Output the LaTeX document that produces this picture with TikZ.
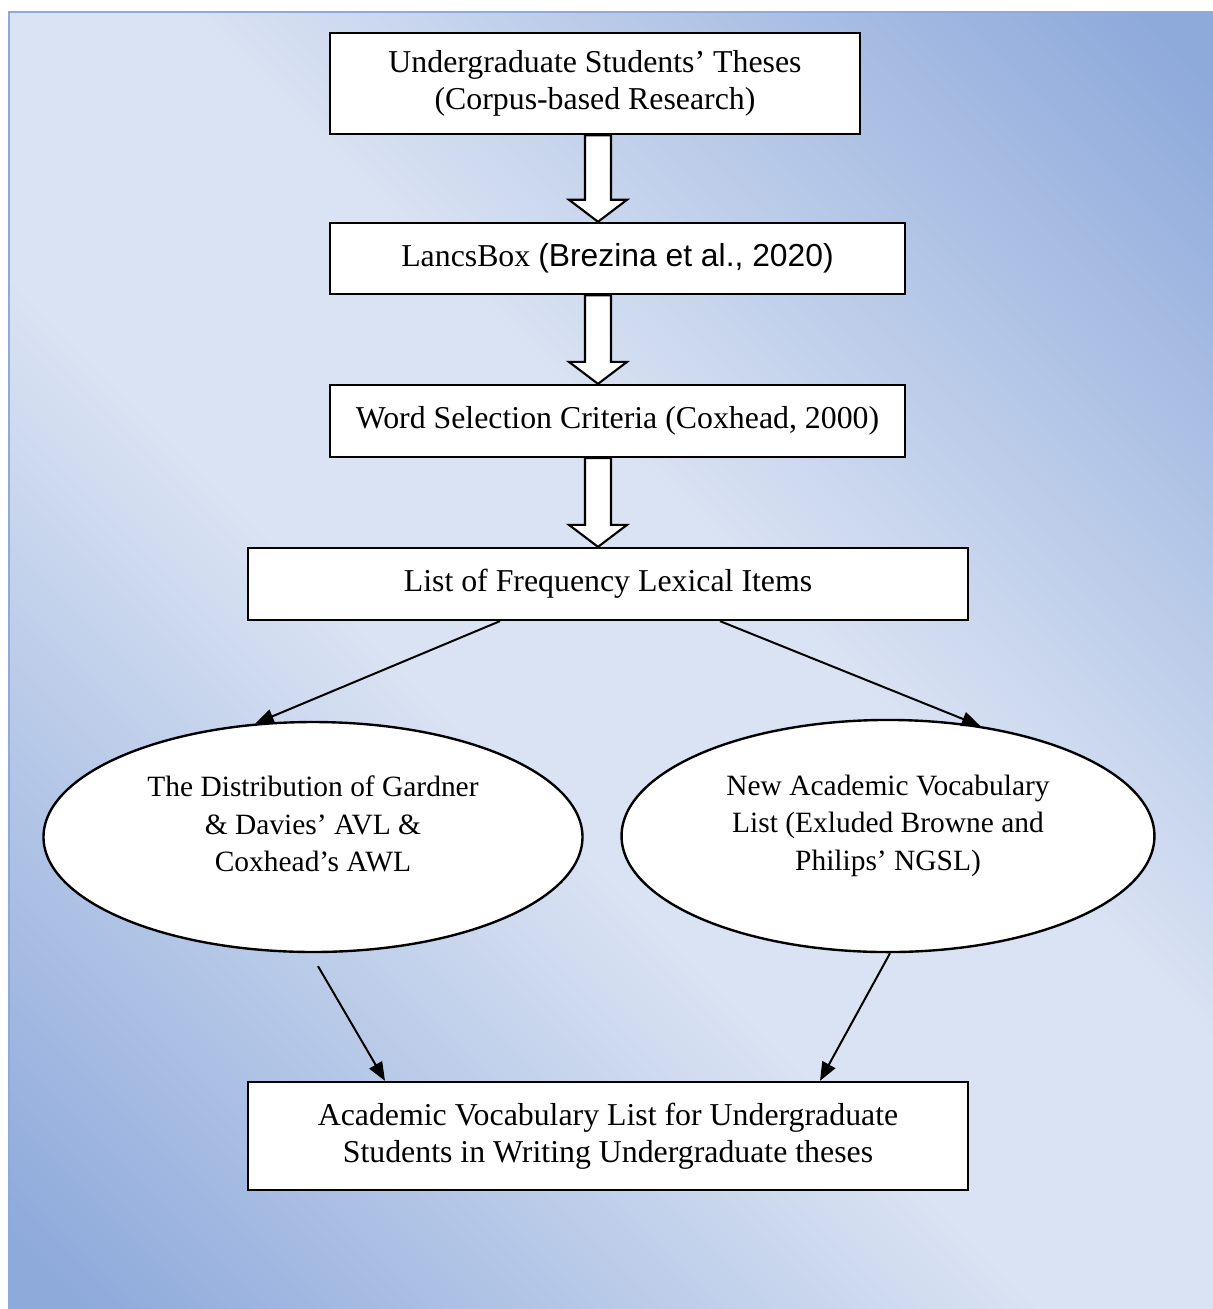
\documentclass[tikz,border=0pt]{standalone}
\usepackage{fontspec}
\setmainfont{Liberation Serif}
\setsansfont{Liberation Sans}
\usetikzlibrary{arrows.meta,calc,shapes.geometric}
\definecolor{bgdark}{HTML}{8EAADB}
\definecolor{bglight}{HTML}{DAE3F3}
\pgfdeclareverticalshading{bgband}{100bp}{color(0bp)=(bgdark); color(17bp)=(bgdark);
  color(44bp)=(bglight); color(56bp)=(bglight); color(83bp)=(bgdark); color(100bp)=(bgdark)}
% hollow block arrow from the bottom of #1 to the top of #2, along (spine)
\newcommand{\blockarrow}[2]{%
  \draw[fill=white,line width=0.8pt,line join=miter]
    ($(#1.south -| spine)+(-13,0)$) -- ($(#1.south -| spine)+(13,0)$)
    -- ($(#2.north -| spine)+(13,-22)$) -- ($(#2.north -| spine)+(29,-22)$)
    -- (#2.north -| spine) -- ($(#2.north -| spine)+(-29,-22)$)
    -- ($(#2.north -| spine)+(-13,-22)$) -- cycle;}

\begin{document}
\begin{tikzpicture}[x=0.377pt,y=-0.377pt,
    box/.style={draw,fill=white,line width=0.9pt,inner sep=0pt,align=center,
      font=\fontsize{12}{13.8}\selectfont},
    oval/.style={box,ellipse,font=\fontsize{11.1}{14.1}\selectfont,text depth=10pt},
    link/.style={-{Triangle[length=7pt,width=5.5pt]},line width=0.75pt}]
  \useasboundingbox (0,0) rectangle (1213,1309);
  \shadedraw[shading=bgband,shading angle=-45,draw=bgdark,line width=1.1pt]
    (9,12) rectangle (1230,1325);
  \coordinate (spine) at (598,0);

  \node[box,minimum width=199.8pt,minimum height=38.1pt] (theses) at (595,83.5)
    {Undergraduate Students’ Theses\\(Corpus-based Research)};
  \node[box,minimum width=216.8pt,minimum height=26.8pt] (lancs) at (617.5,258.5)
    {LancsBox \textsf{(Brezina et al., 2020)}};
  \node[box,minimum width=216.8pt,minimum height=27.1pt] (criteria) at (617.5,421)
    {Word Selection Criteria (Coxhead, 2000)};
  \node[box,minimum width=271.4pt,minimum height=27.1pt] (freq) at (608,584)
    {List of Frequency Lexical Items};
  \node[oval,minimum width=203.2pt,minimum height=86.7pt] (avl) at (313,837)
    {The Distribution of Gardner\\\& Davies’ AVL \&\\Coxhead’s AWL};
  \node[oval,minimum width=200.9pt,minimum height=87.5pt] (navl) at (888,836)
    {New Academic Vocabulary\\List (Exluded Browne and\\Philips’ NGSL)};
  \node[box,minimum width=271.4pt,minimum height=40.7pt] (final) at (608,1136)
    {Academic Vocabulary List for Undergraduate\\Students in Writing Undergraduate theses};

  \blockarrow{theses}{lancs}
  \blockarrow{lancs}{criteria}
  \blockarrow{criteria}{freq}

  \draw[link] ($(freq.south)+(-108,0)$) -- (avl.117);
  \draw[link] ($(freq.south)+(112,0)$) -- (navl.50);
  \draw[link] ($(avl.south)+(5,13)$) -- ($(final.north)+(-223,0)$);
  \draw[link] ($(navl.south)+(2,0)$) -- ($(final.north)+(212,0)$);
\end{tikzpicture}
\end{document}
